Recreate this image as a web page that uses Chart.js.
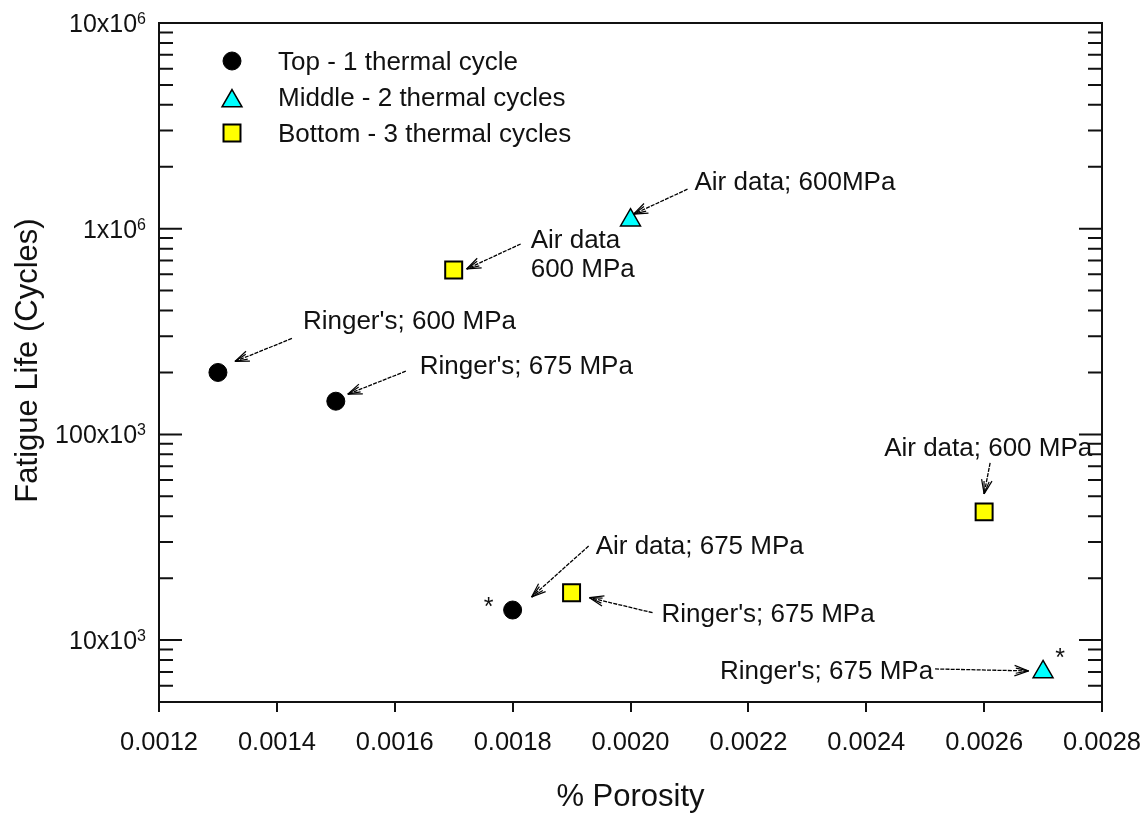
<!DOCTYPE html>
<html>
<head>
<meta charset="utf-8">
<script src="https://cdn.jsdelivr.net/npm/chart.js@4.4.1/dist/chart.umd.min.js"></script>
<style>
  html, body { margin: 0; padding: 0; background: #ffffff; }
  #wrap { width: 1148px; height: 816px; }
</style>
</head>
<body>
<div id="wrap"><canvas id="c" width="1148" height="816"></canvas></div>
<script>
// ---------- data ----------
const seriesNames = ['Top - 1 thermal cycle', 'Middle - 2 thermal cycles', 'Bottom - 3 thermal cycles'];
const topX = [0.0013, 0.0015, 0.0018];
const topY = [2.0e5, 1.45e5, 1.4e4];
const midX = [0.0020, 0.0027];
const midY = [1.1e6, 7.0e3];
const botX = [0.0017, 0.0019, 0.0026];
const botY = [6.3e5, 1.7e4, 4.2e4];

const xTickValues = [0.0012, 0.0014, 0.0016, 0.0018, 0.0020, 0.0022, 0.0024, 0.0026, 0.0028];
const xTickLabels = ['0.0012', '0.0014', '0.0016', '0.0018', '0.0020', '0.0022', '0.0024', '0.0026', '0.0028'];
const yMajorTicks = [1e4, 1e5, 1e6, 1e7];
const yMajorMantissa = ['10x10', '100x10', '1x10', '10x10'];
const yMajorExponent = ['3', '3', '6', '6'];
const xMin = 0.0012, xMax = 0.0028, yMin = 5000, yMax = 1e7;

const xTitle = '% Porosity';
const yTitle = 'Fatigue Life (Cycles)';

// annotations: attached to a data point (dataset, index); offsets in px from that point
const notes = [
  { lines: ["Ringer's; 600 MPa"], ds: 0, idx: 0, text: [85, -53], tail: [74, -34], head: [17, -11] },
  { lines: ["Ringer's; 675 MPa"], ds: 0, idx: 1, text: [84, -37], tail: [70, -30], head: [12, -7] },
  { lines: ["Air data", "600 MPa"], ds: 2, idx: 0, text: [77, -31], tail: [67, -26], head: [13, -1] },
  { lines: ["Air data; 600MPa"], ds: 1, idx: 0, text: [64, -39], tail: [57, -31], head: [3, -6] },
  { lines: ["Air data; 600 MPa"], ds: 2, idx: 2, text: [-100, -65], tail: [6, -49], head: [0, -18] },
  { lines: ["Air data; 675 MPa"], ds: 0, idx: 2, text: [83, -65], tail: [76, -64], head: [19, -13] },
  { lines: ["Ringer's; 675 MPa"], ds: 2, idx: 1, text: [90, 20], tail: [81, 20], head: [18, 5] },
  { lines: ["Ringer's; 675 MPa"], ds: 1, idx: 1, text: [-323, -2.5], tail: [-108, -3], head: [-14.5, -1] }
];
const stars = [ { ds: 0, idx: 2, off: [-24, -9] }, { ds: 1, idx: 1, off: [17, -19.5] } ];

// ---------- helpers ----------
const FONT = '"Liberation Sans", Arial, sans-serif';
const TXT = '#111111';
const NOTE_SIZE = 26;
function zip(xs, ys) { return xs.map((x, i) => ({ x: x, y: ys[i] })); }

function drawTextCap(ctx, str, x, yc, size, align) {
  ctx.font = size + 'px ' + FONT;
  ctx.textAlign = align || 'left';
  ctx.textBaseline = 'alphabetic';
  ctx.fillText(str, x, yc + size * 0.358);
}

function drawArrow(ctx, x1, y1, x2, y2) {
  ctx.save();
  ctx.strokeStyle = '#000';
  ctx.lineWidth = 1.3;
  ctx.setLineDash([4, 1.2]);
  ctx.beginPath(); ctx.moveTo(x1, y1); ctx.lineTo(x2, y2); ctx.stroke();
  ctx.setLineDash([]);
  const a = Math.atan2(y2 - y1, x2 - x1) + Math.PI;
  const barbs = [[0.36, 15], [-0.36, 15], [0.2, 13], [-0.2, 13]];
  ctx.lineWidth = 1.2;
  barbs.forEach(b => {
    ctx.beginPath();
    ctx.moveTo(x2, y2);
    ctx.lineTo(x2 + Math.cos(a + b[0]) * b[1], y2 + Math.sin(a + b[0]) * b[1]);
    ctx.stroke();
  });
  ctx.restore();
}

const decor = {
  id: 'decor',
  afterDraw(chart) {
    const ctx = chart.ctx;
    const ca = chart.chartArea;
    const xs = chart.scales.x, ys = chart.scales.y;
    ctx.save();

    // frame
    ctx.strokeStyle = '#111';
    ctx.lineWidth = 2;
    ctx.strokeRect(ca.left, ca.top, ca.right - ca.left, ca.bottom - ca.top);

    // y ticks (inward, both sides)
    ctx.lineWidth = 2;
    ys.ticks.forEach(t => {
      const py = ys.getPixelForValue(t.value);
      const lg = Math.log10(t.value);
      const major = Math.abs(lg - Math.round(lg)) < 1e-9;
      const len = major ? 23 : 14;
      ctx.beginPath();
      ctx.moveTo(ca.left, py); ctx.lineTo(ca.left + len, py);
      ctx.moveTo(ca.right, py); ctx.lineTo(ca.right - len, py);
      ctx.stroke();
    });

    // y tick labels with superscripts
    ctx.fillStyle = TXT;
    yMajorTicks.forEach((v, i) => {
      const py = ys.getPixelForValue(v);
      const rx = ca.left - 13;
      ctx.font = '16px ' + FONT;
      const ew = ctx.measureText(yMajorExponent[i]).width;
      ctx.textAlign = 'right'; ctx.textBaseline = 'alphabetic';
      ctx.fillText(yMajorExponent[i], rx, py + 1);
      drawTextCap(ctx, yMajorMantissa[i], rx - ew, py, 25, 'right');
    });

    // x tick labels
    xTickValues.forEach((v, i) => {
      const px = xs.getPixelForValue(v);
      ctx.font = '25.5px ' + FONT;
      ctx.textAlign = 'center'; ctx.textBaseline = 'alphabetic';
      ctx.fillText(xTickLabels[i], px, ca.bottom + 48);
    });

    // axis titles
    ctx.font = '31px ' + FONT;
    ctx.textAlign = 'center'; ctx.textBaseline = 'middle';
    ctx.fillText(xTitle, (ca.left + ca.right) / 2, ca.bottom + 95);
    ctx.save();
    ctx.translate(28, (ca.top + ca.bottom) / 2 - 2);
    ctx.rotate(-Math.PI / 2);
    ctx.fillText(yTitle, 0, 0);
    ctx.restore();

    // legend
    chart.data.datasets.forEach((d, i) => {
      const lx = ca.left + 73, ly = ca.top + 38 + i * 36;
      ctx.save();
      ctx.fillStyle = d.backgroundColor;
      ctx.strokeStyle = d.borderColor;
      ctx.lineWidth = d.borderWidth;
      const dy = d.pointStyle === 'triangle' ? 4 : 0;
      Chart.helpers.drawPoint(ctx, { pointStyle: d.pointStyle, radius: d.pointRadius, rotation: 0, borderWidth: d.borderWidth }, lx, ly + dy);
      ctx.restore();
      ctx.fillStyle = TXT;
      drawTextCap(ctx, d.label, ca.left + 119, ly, NOTE_SIZE, 'left');
    });

    // annotations
    notes.forEach(n => {
      const p = chart.getDatasetMeta(n.ds).data[n.idx];
      drawArrow(ctx, p.x + n.tail[0], p.y + n.tail[1], p.x + n.head[0], p.y + n.head[1]);
      ctx.fillStyle = TXT;
      n.lines.forEach((s, k) => {
        drawTextCap(ctx, s, p.x + n.text[0], p.y + n.text[1] + k * 29, NOTE_SIZE, 'left');
      });
    });
    stars.forEach(s => {
      const p = chart.getDatasetMeta(s.ds).data[s.idx];
      ctx.fillStyle = TXT;
      ctx.font = '25px ' + FONT;
      ctx.textAlign = 'center'; ctx.textBaseline = 'alphabetic';
      ctx.fillText('*', p.x + s.off[0], p.y + s.off[1] + 14);
    });

    ctx.restore();
  }
};

new Chart(document.getElementById('c'), {
  type: 'scatter',
  data: {
    datasets: [
      { label: seriesNames[0], data: zip(topX, topY), pointStyle: 'circle', pointRadius: 9, backgroundColor: '#000000', borderColor: '#000000', borderWidth: 1 },
      { label: seriesNames[1], data: zip(midX, midY), pointStyle: 'triangle', pointRadius: 11.5, backgroundColor: '#00FFFF', borderColor: '#000000', borderWidth: 1.5 },
      { label: seriesNames[2], data: zip(botX, botY), pointStyle: 'rect', pointRadius: 12, backgroundColor: '#FFFF00', borderColor: '#000000', borderWidth: 2 }
    ]
  },
  options: {
    responsive: false,
    animation: false,
    devicePixelRatio: 1,
    layout: { padding: { left: 0, right: 46, top: 23, bottom: 0 } },
    plugins: { legend: { display: false }, tooltip: { enabled: false } },
    elements: { point: { hoverRadius: 0 } },
    scales: {
      x: {
        type: 'linear', min: xMin, max: xMax,
        afterBuildTicks: s => { s.ticks = xTickValues.map(v => ({ value: v })); },
        afterFit: s => { s.height = 114; },
        ticks: { color: 'rgba(0,0,0,0)', font: { size: 25 } },
        grid: { display: true, drawOnChartArea: false, drawTicks: true, tickLength: 10, color: '#111', lineWidth: 2 },
        border: { display: false }
      },
      y: {
        type: 'logarithmic', min: yMin, max: yMax,
        afterBuildTicks: s => {
          const t = [];
          for (let e = 3; e <= 6; e++) {
            for (let m = 1; m <= 9; m++) {
              const v = m * Math.pow(10, e);
              if (v >= yMin && v <= yMax) t.push({ value: v });
            }
          }
          t.push({ value: yMax });
          s.ticks = t;
        },
        afterFit: s => { s.width = 159; },
        ticks: { display: false },
        grid: { display: false },
        border: { display: false }
      }
    }
  },
  plugins: [decor]
});
</script>
</body>
</html>
